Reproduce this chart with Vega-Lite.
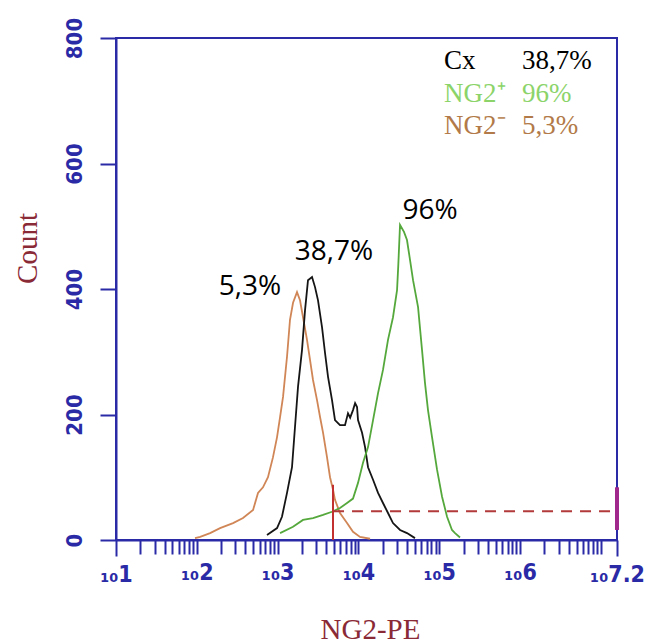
{
  "$schema": "https://vega.github.io/schema/vega-lite/v6.json",
  "width": 501,
  "height": 502,
  "autosize": {"type": "none"},
  "padding": {"left": 116, "top": 38, "right": 28, "bottom": 104},
  "background": "white",
  "config": {"view": {"stroke": "#2a2aa6", "strokeWidth": 2}},
  "datasets": {
    "curves": [
      {"series": "NG2-", "x": 95, "count": 3}, {"series": "NG2-", "x": 110, "count": 5}, {"series": "NG2-", "x": 146, "count": 11}, {"series": "NG2-", "x": 194, "count": 19}, {"series": "NG2-", "x": 281, "count": 27}, {"series": "NG2-", "x": 373, "count": 35}, {"series": "NG2-", "x": 497, "count": 48}, {"series": "NG2-", "x": 572, "count": 75}, {"series": "NG2-", "x": 659, "count": 84}, {"series": "NG2-", "x": 760, "count": 100}, {"series": "NG2-", "x": 877, "count": 132}, {"series": "NG2-", "x": 984, "count": 164}, {"series": "NG2-", "x": 1072, "count": 196}, {"series": "NG2-", "x": 1167, "count": 228}, {"series": "NG2-", "x": 1307, "count": 292}, {"series": "NG2-", "x": 1423, "count": 351}, {"series": "NG2-", "x": 1552, "count": 378}, {"series": "NG2-", "x": 1738, "count": 395}, {"series": "NG2-", "x": 1893, "count": 382}, {"series": "NG2-", "x": 2062, "count": 355}, {"series": "NG2-", "x": 2311, "count": 319}, {"series": "NG2-", "x": 2518, "count": 287}, {"series": "NG2-", "x": 2742, "count": 255}, {"series": "NG2-", "x": 3074, "count": 223}, {"series": "NG2-", "x": 3350, "count": 196}, {"series": "NG2-", "x": 3648, "count": 171}, {"series": "NG2-", "x": 4085, "count": 132}, {"series": "NG2-", "x": 4452, "count": 100}, {"series": "NG2-", "x": 4850, "count": 80}, {"series": "NG2-", "x": 5129, "count": 64}, {"series": "NG2-", "x": 5916, "count": 43}, {"series": "NG2-", "x": 7228, "count": 27}, {"series": "NG2-", "x": 8570, "count": 13}, {"series": "NG2-", "x": 10470, "count": 5}, {"series": "NG2-", "x": 13930, "count": 2},
      {"series": "Cx", "x": 739, "count": 8}, {"series": "Cx", "x": 984, "count": 19}, {"series": "Cx", "x": 1132, "count": 37}, {"series": "Cx", "x": 1307, "count": 75}, {"series": "Cx", "x": 1507, "count": 116}, {"series": "Cx", "x": 1641, "count": 180}, {"series": "Cx", "x": 1788, "count": 244}, {"series": "Cx", "x": 2005, "count": 303}, {"series": "Cx", "x": 2183, "count": 366}, {"series": "Cx", "x": 2377, "count": 414}, {"series": "Cx", "x": 2667, "count": 419}, {"series": "Cx", "x": 2904, "count": 403}, {"series": "Cx", "x": 3162, "count": 382}, {"series": "Cx", "x": 3547, "count": 339}, {"series": "Cx", "x": 3862, "count": 298}, {"series": "Cx", "x": 4207, "count": 260}, {"series": "Cx", "x": 4713, "count": 223}, {"series": "Cx", "x": 5129, "count": 191}, {"series": "Cx", "x": 5916, "count": 183}, {"series": "Cx", "x": 6823, "count": 183}, {"series": "Cx", "x": 7430, "count": 202}, {"series": "Cx", "x": 7900, "count": 195}, {"series": "Cx", "x": 8570, "count": 207}, {"series": "Cx", "x": 9100, "count": 218}, {"series": "Cx", "x": 9616, "count": 212}, {"series": "Cx", "x": 9886, "count": 191}, {"series": "Cx", "x": 11090, "count": 171}, {"series": "Cx", "x": 12080, "count": 148}, {"series": "Cx", "x": 13150, "count": 116}, {"series": "Cx", "x": 15170, "count": 96}, {"series": "Cx", "x": 17490, "count": 75}, {"series": "Cx", "x": 20140, "count": 59}, {"series": "Cx", "x": 23230, "count": 43}, {"series": "Cx", "x": 26790, "count": 27}, {"series": "Cx", "x": 32730, "count": 16}, {"series": "Cx", "x": 39910, "count": 11}, {"series": "Cx", "x": 50120, "count": 3},
      {"series": "NG2+", "x": 1072, "count": 11}, {"series": "NG2+", "x": 1552, "count": 21}, {"series": "NG2+", "x": 2062, "count": 32}, {"series": "NG2+", "x": 2742, "count": 35}, {"series": "NG2+", "x": 3648, "count": 40}, {"series": "NG2+", "x": 4713, "count": 45}, {"series": "NG2+", "x": 5916, "count": 51}, {"series": "NG2+", "x": 7228, "count": 59}, {"series": "NG2+", "x": 8570, "count": 66}, {"series": "NG2+", "x": 9886, "count": 91}, {"series": "NG2+", "x": 11400, "count": 123}, {"series": "NG2+", "x": 13150, "count": 148}, {"series": "NG2+", "x": 15170, "count": 191}, {"series": "NG2+", "x": 17490, "count": 234}, {"series": "NG2+", "x": 20140, "count": 271}, {"series": "NG2+", "x": 23230, "count": 319}, {"series": "NG2+", "x": 26790, "count": 355}, {"series": "NG2+", "x": 30060, "count": 398}, {"series": "NG2+", "x": 31200, "count": 440}, {"series": "NG2+", "x": 32730, "count": 502}, {"series": "NG2+", "x": 36640, "count": 491}, {"series": "NG2+", "x": 39910, "count": 478}, {"series": "NG2+", "x": 43550, "count": 446}, {"series": "NG2+", "x": 47420, "count": 414}, {"series": "NG2+", "x": 54700, "count": 371}, {"series": "NG2+", "x": 61240, "count": 303}, {"series": "NG2+", "x": 66690, "count": 250}, {"series": "NG2+", "x": 72610, "count": 207}, {"series": "NG2+", "x": 81470, "count": 164}, {"series": "NG2+", "x": 93970, "count": 112}, {"series": "NG2+", "x": 108400, "count": 69}, {"series": "NG2+", "x": 125000, "count": 37}, {"series": "NG2+", "x": 143900, "count": 16}, {"series": "NG2+", "x": 157000, "count": 11}, {"series": "NG2+", "x": 180800, "count": 4}
    ],
    "annotations": [
      {"label": "96%", "x": 76900, "count": 524},
      {"label": "38,7%", "x": 4990, "count": 459},
      {"label": "5,3%", "x": 455, "count": 403}
    ],
    "legendtext": [
      {"key": "Cx", "label": "Cx", "x": 114700, "count": 763},
      {"key": "Cx", "label": "38,7%", "x": 1058800, "count": 763},
      {"key": "NG2+", "label": "NG2⁺", "x": 114700, "count": 711},
      {"key": "NG2+", "label": "96%", "x": 1058800, "count": 711},
      {"key": "NG2-", "label": "NG2⁻", "x": 114700, "count": 660},
      {"key": "NG2-", "label": "5,3%", "x": 1058800, "count": 660}
    ],
    "gate": [
      {"x": 4850, "x2": 15848932, "count": 46}
    ],
    "gatemark": [
      {"x": 4850, "count": 0, "count2": 88}
    ],
    "edgemark": [
      {"x": 15848932, "count": 16, "count2": 84}
    ]
  },
  "layer": [
    {
      "data": {"name": "curves"},
      "mark": {"type": "line", "strokeWidth": 1.8, "clip": true},
      "encoding": {
        "x": {
          "field": "x", "type": "quantitative",
          "scale": {"type": "log", "domain": [10, 15848932], "nice": false},
          "axis": {
            "title": "NG2-PE",
            "titleFont": "Liberation Serif", "titleFontSize": 29, "titleFontWeight": "normal", "titleColor": "#8a2a36",
            "titleX": 254, "titleY": 89, "titleBaseline": "middle", "titleAlign": "center",
            "values": [10,20,30,40,50,60,70,80,90,100,200,300,400,500,600,700,800,900,1000,2000,3000,4000,5000,6000,7000,8000,9000,10000,20000,30000,40000,50000,60000,70000,80000,90000,100000,200000,300000,400000,500000,600000,700000,800000,900000,1000000,2000000,3000000,4000000,5000000,6000000,7000000,8000000,9000000,10000000,15848932],
            "labelExpr": "datum.value > 1.5e7 ? '₁₀7.2' : (datum.value < 5e6 && abs(log(datum.value)/LN10 - round(log(datum.value)/LN10)) < 0.001 ? '₁₀' + round(log(datum.value)/LN10) : '')",
            "labelOverlap": false, "labelFlush": false, "labelBound": false,
            "labelFont": "DejaVu Sans Condensed, DejaVu Sans", "labelFontWeight": "bold", "labelFontSize": 23, "labelColor": "#2a2aa6",
            "labelBaseline": "top", "labelPadding": 7, "labelDx": -4,
            "tickColor": "#2a2aa6", "tickWidth": 2,
            "tickSize": {"condition": {"test": "datum.value == 10 || datum.value > 1.5e7", "value": 16}, "value": 14},
            "domainColor": "#2a2aa6", "domainWidth": 2, "grid": false
          }
        },
        "y": {
          "field": "count", "type": "quantitative",
          "scale": {"domain": [0, 800], "nice": false},
          "axis": {
            "title": "Count",
            "titleFont": "Liberation Serif", "titleFontSize": 29, "titleFontWeight": "normal", "titleColor": "#8a2a36",
            "titleX": -89, "titleY": 210, "titleAngle": -90, "titleBaseline": "middle", "titleAlign": "center",
            "values": [0, 200, 400, 600, 800],
            "labelAngle": -90, "labelAlign": "center", "labelBaseline": "alphabetic", "labelPadding": 19,
            "labelFont": "DejaVu Sans Condensed, DejaVu Sans", "labelFontWeight": "bold", "labelFontSize": 22, "labelColor": "#2a2aa6",
            "tickColor": "#2a2aa6", "tickWidth": 2, "tickSize": 16,
            "domainColor": "#2a2aa6", "domainWidth": 2, "grid": false
          }
        },
        "color": {
          "field": "series", "type": "nominal",
          "scale": {"domain": ["NG2-", "Cx", "NG2+"], "range": ["#d08656", "#151515", "#55a83c"]},
          "legend": null
        },
        "detail": {"field": "series"}
      }
    },
    {
      "data": {"name": "gate"},
      "mark": {"type": "rule", "color": "#b33a3a", "strokeWidth": 2, "strokeDash": [11, 8]},
      "encoding": {
        "x": {"field": "x", "type": "quantitative"},
        "x2": {"field": "x2"},
        "y": {"field": "count", "type": "quantitative"}
      }
    },
    {
      "data": {"name": "gatemark"},
      "mark": {"type": "rule", "color": "#c23030", "strokeWidth": 2},
      "encoding": {
        "x": {"field": "x", "type": "quantitative"},
        "y": {"field": "count", "type": "quantitative"},
        "y2": {"field": "count2"}
      }
    },
    {
      "data": {"name": "edgemark"},
      "mark": {"type": "rule", "color": "#a0288c", "strokeWidth": 4},
      "encoding": {
        "x": {"field": "x", "type": "quantitative"},
        "y": {"field": "count", "type": "quantitative"},
        "y2": {"field": "count2"}
      }
    },
    {
      "data": {"name": "annotations"},
      "mark": {"type": "text", "font": "Open Sans", "fontSize": 28, "color": "#000000", "align": "center", "baseline": "middle"},
      "encoding": {
        "x": {"field": "x", "type": "quantitative"},
        "y": {"field": "count", "type": "quantitative"},
        "text": {"field": "label"}
      }
    },
    {
      "data": {"name": "legendtext"},
      "mark": {"type": "text", "font": "Liberation Serif", "fontSize": 27, "align": "left", "baseline": "middle"},
      "encoding": {
        "x": {"field": "x", "type": "quantitative"},
        "y": {"field": "count", "type": "quantitative"},
        "text": {"field": "label"},
        "color": {
          "field": "key", "type": "nominal",
          "scale": {"domain": ["Cx", "NG2+", "NG2-"], "range": ["#000000", "#8cd46a", "#b27a48"]},
          "legend": null
        }
      }
    }
  ],
  "resolve": {"scale": {"color": "independent"}}
}
